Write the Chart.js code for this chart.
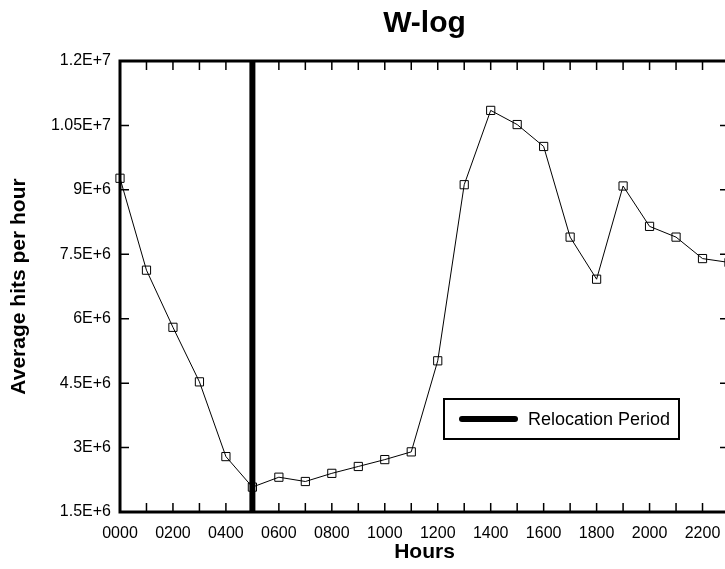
<!DOCTYPE html>
<html>
<head>
<meta charset="utf-8">
<script src="https://cdn.jsdelivr.net/npm/chart.js@4/dist/chart.umd.min.js"></script>
<style>
  body { margin: 0; background: #fff; }
  .wrap { width: 725px; height: 569px; overflow: hidden; position: relative; }
</style>
</head>
<body>
<div class="wrap">
  <canvas id="chart" width="740" height="569"></canvas>
</div>
<script>
// hours of the day and the average hits
const hours = [0, 100, 200, 300, 400, 500, 600, 700, 800, 900, 1000, 1100,
  1200, 1300, 1400, 1500, 1600, 1700, 1800, 1900, 2000, 2100, 2200, 2300];
const hits = [9.27e6, 7.13e6, 5.80e6, 4.53e6, 2.79e6, 2.08e6, 2.31e6, 2.21e6,
  2.40e6, 2.56e6, 2.72e6, 2.90e6, 5.02e6, 9.12e6, 1.085e7, 1.052e7, 1.001e7,
  7.90e6, 6.92e6, 9.09e6, 8.15e6, 7.90e6, 7.40e6, 7.31e6];

// relocation period marker
const relocationHour = [500, 500];
const relocationRange = [1.5e6, 1.2e7];

const yTicks = [1.5e6, 3e6, 4.5e6, 6e6, 7.5e6, 9e6, 1.05e7, 1.2e7];
const xLabelHours = [0, 200, 400, 600, 800, 1000, 1200, 1400, 1600, 1800, 2000, 2200];

const FONT = "'Liberation Sans', Arial, Helvetica, sans-serif";

function fmtExp(v) {
  return v.toExponential().replace('e', 'E');
}

// frame, inward ticks, title and the boxed legend
const framePlugin = {
  id: 'frame',
  afterDatasetsDraw(chart) {
    const { ctx, chartArea: a, scales } = chart;
    const x = scales.x, y = scales.y;
    ctx.save();
    ctx.strokeStyle = '#000';
    ctx.lineWidth = 1.5;
    ctx.beginPath();
    for (let h = 100; h < 2300; h += 100) {
      const px = x.getPixelForValue(h);
      ctx.moveTo(px, a.bottom); ctx.lineTo(px, a.bottom - 9);
      ctx.moveTo(px, a.top); ctx.lineTo(px, a.top + 9);
    }
    yTicks.slice(1, -1).forEach(v => {
      const py = y.getPixelForValue(v);
      ctx.moveTo(a.left, py); ctx.lineTo(a.left + 9, py);
      ctx.moveTo(a.right, py); ctx.lineTo(a.right - 9, py);
    });
    ctx.stroke();
    ctx.lineWidth = 3;
    ctx.strokeRect(a.left, a.top, a.right - a.left, a.bottom - a.top);
    ctx.restore();
  },
  afterDraw(chart) {
    const { ctx, chartArea: a } = chart;
    ctx.save();
    ctx.fillStyle = '#000';
    ctx.font = 'bold 30px ' + FONT;
    ctx.textAlign = 'center';
    ctx.textBaseline = 'alphabetic';
    ctx.fillText('W-log', (a.left + a.right) / 2, 32);

    // legend box
    const ds = chart.data.datasets[1];
    ctx.lineWidth = 2;
    ctx.strokeRect(444, 399, 235, 40);
    ctx.lineWidth = ds.borderWidth;
    ctx.lineCap = 'round';
    ctx.beginPath();
    ctx.moveTo(462, 419); ctx.lineTo(515, 419);
    ctx.stroke();
    ctx.font = '18px ' + FONT;
    ctx.textAlign = 'left';
    ctx.textBaseline = 'middle';
    ctx.fillText(ds.label, 528, 420);
    ctx.restore();
  }
};

new Chart(document.getElementById('chart'), {
  type: 'line',
  data: {
    datasets: [
      {
        label: 'W-log',
        data: hours.map((h, i) => ({ x: h, y: hits[i] })),
        borderColor: '#000',
        borderWidth: 1,
        pointStyle: 'rect',
        pointRadius: 5.8,
        pointBorderWidth: 1,
        pointBorderColor: '#000',
        pointBackgroundColor: 'rgba(0,0,0,0)',
        tension: 0,
        clip: false
      },
      {
        label: 'Relocation Period',
        data: relocationHour.map((h, i) => ({ x: h, y: relocationRange[i] })),
        borderColor: '#000',
        borderWidth: 6,
        pointRadius: 0
      }
    ]
  },
  options: {
    responsive: false,
    animation: false,
    events: [],
    layout: { padding: { left: 0, top: 61, right: 11, bottom: 0 } },
    plugins: {
      legend: { display: false },
      title: { display: false },
      tooltip: { enabled: false }
    },
    scales: {
      x: {
        type: 'linear',
        min: 0,
        max: 2300,
        afterFit(scale) { scale.height = 57; },
        afterBuildTicks(scale) {
          scale.ticks = xLabelHours.map(v => ({ value: v }));
        },
        grid: { display: false, drawTicks: false },
        border: { display: false },
        ticks: {
          autoSkip: false,
          maxRotation: 0,
          padding: 12,
          color: '#000',
          font: { family: FONT, size: 16 },
          callback: v => String(v).padStart(4, '0')
        },
        title: {
          display: true,
          text: 'Hours',
          color: '#000',
          font: { family: FONT, size: 21, weight: 'bold' },
          padding: { top: 0, bottom: 4 }
        }
      },
      y: {
        min: 1.5e6,
        max: 1.2e7,
        afterFit(scale) { scale.width = 120; },
        afterBuildTicks(scale) {
          scale.ticks = yTicks.map(v => ({ value: v }));
        },
        grid: { display: false, drawTicks: false },
        border: { display: false },
        ticks: {
          padding: 9,
          color: '#000',
          font: { family: FONT, size: 16 },
          callback: v => fmtExp(v)
        },
        title: {
          display: true,
          text: 'Average hits per hour',
          color: '#000',
          font: { family: FONT, size: 21, weight: 'bold' },
          padding: { top: 7, bottom: 0 }
        }
      }
    }
  },
  plugins: [framePlugin]
});
</script>
</body>
</html>
